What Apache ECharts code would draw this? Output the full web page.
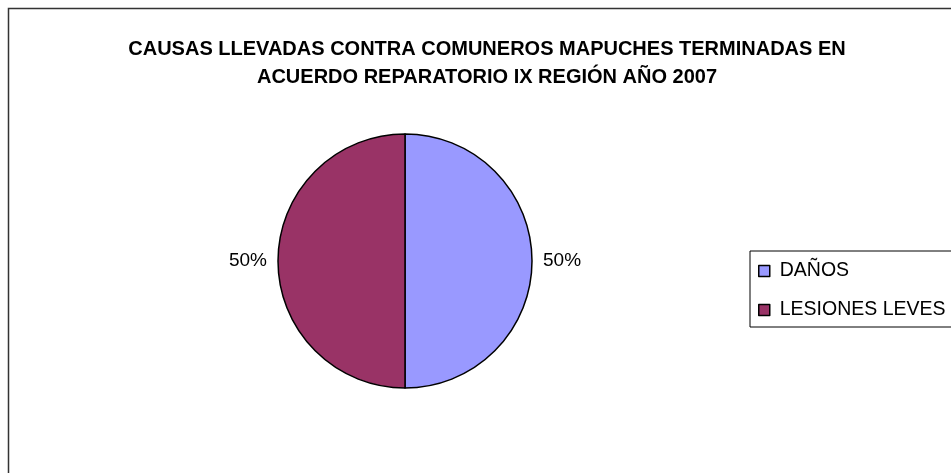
<!DOCTYPE html>
<html>
<head>
<meta charset="utf-8">
<style>
  html, body { margin: 0; padding: 0; background: #fff; }
  #chart { width: 951px; height: 473px; }
</style>
<script src="https://cdn.jsdelivr.net/npm/echarts@6/dist/echarts.min.js"></script>
</head>
<body>
<div id="chart"></div>
<script>
// Causas terminadas en acuerdo reparatorio, IX Región, 2007
const categories = ['DAÑOS', 'LESIONES LEVES'];
const values = [1, 1];
const colors = ['#9999FF', '#993366'];
const titleLines = [
  'CAUSAS LLEVADAS CONTRA COMUNEROS MAPUCHES TERMINADAS EN',
  'ACUERDO REPARATORIO IX REGIÓN AÑO 2007'
];

const chart = echarts.init(document.getElementById('chart'), null, { renderer: 'canvas' });

const font = '"Liberation Sans", Arial, sans-serif';

chart.setOption({
  animation: false,
  backgroundColor: '#fff',
  title: {
    text: titleLines.join('\n'),
    left: 482,
    textAlign: 'center',
    top: 30,
    textStyle: {
      fontFamily: font,
      fontWeight: 'bold',
      fontSize: 20,
      lineHeight: 28,
      color: '#000'
    }
  },
  legend: {
    orient: 'vertical',
    left: 750,
    top: 251,
    padding: [10, 8, 7, 8],
    itemGap: 19,
    itemWidth: 11,
    itemHeight: 11,
    icon: 'rect',
    borderColor: '#000',
    borderWidth: 1,
    backgroundColor: '#fff',
    itemStyle: { borderColor: '#000', borderWidth: 1.5 },
    textStyle: { fontFamily: font, fontSize: 19.5, color: '#000', padding: [0, 0, 0, 5] },
    data: categories
  },
  graphic: [{
    type: 'rect',
    shape: { x: 8.5, y: 8.5, width: 980, height: 500 },
    style: { fill: 'none', stroke: '#333', lineWidth: 1.5 },
    silent: true,
    z: -10
  }],
  series: [{
    type: 'pie',
    center: [405, 261],
    radius: 127,
    startAngle: 90,
    clockwise: true,
    data: categories.map((name, i) => ({
      name: name,
      value: values[i],
      itemStyle: { color: colors[i] }
    })),
    itemStyle: { borderColor: '#000', borderWidth: 1.5 },
    label: {
      show: true,
      position: 'outside',
      formatter: (p) => Math.round(p.percent) + '%',
      fontFamily: font,
      fontSize: 19,
      color: '#000'
    },
    labelLine: { show: false, length: 6, length2: 0 },
    emphasis: { disabled: true }
  }]
});
</script>
</body>
</html>
